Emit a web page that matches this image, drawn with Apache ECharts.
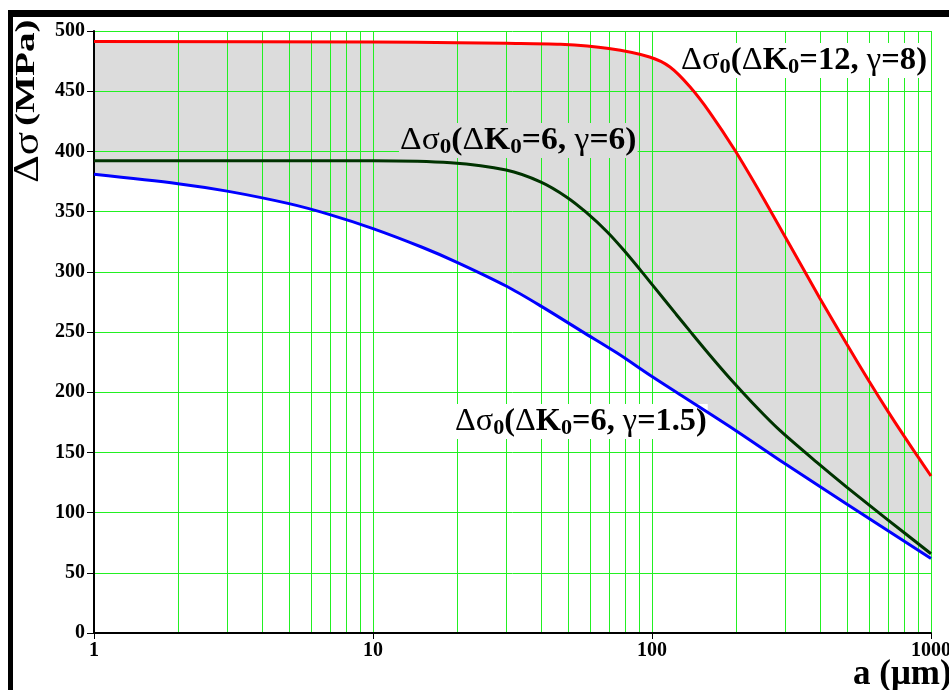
<!DOCTYPE html>
<html>
<head>
<meta charset="utf-8">
<script src="https://cdn.jsdelivr.net/npm/echarts@6/dist/echarts.min.js"></script>
<style>
html, body { margin: 0; padding: 0; background: #fff; }
#main { width: 949px; height: 690px; }
</style>
</head>
<body>
<div id="main"></div>
<script>
// curve data: a (um) and delta sigma (MPa)
var aRed = [1, 10, 20, 30, 47, 70, 98, 116, 137, 161, 198, 250, 300, 400, 500, 600, 700, 800, 900, 1000];
var sRed = [491.2, 490.8, 490.3, 489.8, 488.9, 485.4, 478.4, 470.1, 453.5, 432.5, 401.1, 361.6, 329.1, 277.9, 239.6, 209.1, 184.3, 163.7, 146, 130.4];
var aGreen = [1, 10, 19, 30, 40, 49.5, 58, 69, 79, 90.6, 101, 122, 137, 161, 190, 240, 288, 389, 500, 700, 1000];
var sGreen = [392.3, 392.2, 390.5, 384.5, 374.5, 362, 349.5, 333.3, 318.3, 301.8, 288.3, 264.8, 250.5, 230.9, 211.6, 186.2, 168, 141.9, 121, 94, 65.8];
var aBlue = [1, 2, 3, 5, 7, 10, 15, 20, 30, 40, 57, 75, 100, 130, 200, 300, 500, 1000];
var sBlue = [381, 373.2, 367, 356.6, 347.5, 335.9, 320.4, 307.9, 288.2, 271.5, 249.5, 232.5, 213, 196, 168, 140.5, 107, 61.8];
// minor vertical grid lines of the log axis
var minorA = [2, 3, 4, 5, 6, 7, 8, 9, 20, 30, 40, 50, 60, 70, 80, 90, 200, 300, 400, 500, 600, 700, 800, 900];
var yMin = 0, yMax = 500, yStep = 50;

function pairs(xs, ys) {
	var out = [];
	for (var i = 0; i < xs.length; i++) out.push([xs[i], ys[i]]);
	return out;
}
var red = pairs(aRed, sRed);
var green = pairs(aGreen, sGreen);
var blue = pairs(aBlue, sBlue);

var serif = "'Liberation Serif', 'DejaVu Serif', serif";
var gridGreen = '#22f022';

// rich styles for the curve labels
function labelRich() {
	return {
		g: { fontFamily: serif, fontSize: 32, fontWeight: 'normal', color: '#000', lineHeight: 35 },
		b: { fontFamily: serif, fontSize: 32, fontWeight: 'bold', color: '#000', lineHeight: 35 },
		r: { fontFamily: serif, fontSize: 22, fontWeight: 'bold', color: '#5a0a0a', lineHeight: 22, verticalAlign: 'bottom' },
		k: { fontFamily: serif, fontSize: 22, fontWeight: 'bold', color: '#000', lineHeight: 22, verticalAlign: 'bottom' }
	};
}

var myChart = echarts.init(document.getElementById('main'));

var option = {
	backgroundColor: '#fff',
	animation: false,
	grid: { left: 94, right: 18, top: 31, bottom: 57, outerBoundsMode: 'none' },
	xAxis: {
		type: 'log',
		logBase: 10,
		min: 1,
		max: 1000,
		z: 3,
		axisLine: { show: true, lineStyle: { color: '#000', width: 2 } },
		axisTick: { show: true, length: 6, lineStyle: { color: '#000', width: 1 } },
		axisLabel: {
			fontFamily: serif, fontWeight: 'bold', fontSize: 20, color: '#000', margin: 8,
			formatter: function (v) { return String(v); }
		},
		splitLine: { show: true, lineStyle: { color: gridGreen, width: 1 } },
		minorTick: { show: false },
		minorSplitLine: { show: false }
	},
	yAxis: {
		type: 'value',
		min: yMin,
		max: yMax,
		interval: yStep,
		z: 3,
		axisLine: { show: true, lineStyle: { color: '#000', width: 2 } },
		axisTick: { show: true, length: 7, lineStyle: { color: '#000', width: 1 } },
		axisLabel: { fontFamily: serif, fontWeight: 'bold', fontSize: 20, color: '#000', margin: 9 },
		splitLine: { show: true, lineStyle: { color: gridGreen, width: 1 } }
	},
	series: [
		{
			// grey band between the top and bottom curve
			type: 'custom',
			z: 1,
			silent: true,
			data: [[1, 0]],
			renderItem: function (params, api) {
				var pts = [];
				for (var i = 0; i < red.length; i++) pts.push(api.coord(red[i]));
				for (var j = blue.length - 1; j >= 0; j--) pts.push(api.coord(blue[j]));
				return { type: 'polygon', shape: { points: pts, smooth: 0 }, style: { fill: '#dcdcdc' } };
			}
		},
		{
			// minor grid lines (2..9, 20..90, 200..900)
			type: 'custom',
			z: 3,
			silent: true,
			data: minorA.map(function (v) { return [v, 0]; }),
			renderItem: function (params, api) {
				var v = api.value(0);
				var top = api.coord([v, yMax]);
				var bot = api.coord([v, yMin]);
				var x = Math.round(top[0]) + 0.5;
				return {
					type: 'line',
					shape: { x1: x, y1: top[1], x2: x, y2: bot[1] },
					style: { stroke: gridGreen, lineWidth: 1 }
				};
			}
		},
		{
			type: 'line', z: 5, data: red, smooth: 0.3, showSymbol: false,
			lineStyle: { color: '#ff0000', width: 3 }
		},
		{
			type: 'line', z: 5, data: green, smooth: 0.3, showSymbol: false,
			lineStyle: { color: '#003300', width: 3 }
		},
		{
			type: 'line', z: 5, data: blue, smooth: 0.3, showSymbol: false,
			lineStyle: { color: '#0000ff', width: 3 }
		}
	],
	graphic: [
		{ type: 'rect', z: 20, shape: { x: 8, y: 10, width: 941, height: 7 }, style: { fill: '#000' } },
		{ type: 'rect', z: 20, shape: { x: 8, y: 10, width: 5, height: 680 }, style: { fill: '#000' } },
		{
			type: 'text', z: 20, x: 11, y: 183, rotation: Math.PI / 2, scaleX: 1.2,
			style: { text: 'Δσ', fontFamily: serif, fontSize: 36, fill: '#000' }
		},
		{
			type: 'text', z: 20, x: 13, y: 126, rotation: Math.PI / 2, scaleX: 1.4,
			style: { text: '(MPa)', fontFamily: serif, fontSize: 28, fontWeight: 'bold', fill: '#000' }
		},
		{
			type: 'text', z: 20, x: 853, y: 657,
			style: {
				text: 'a (μm)',
				fontFamily: serif, fontSize: 35, fontWeight: 'bold', fill: '#000'
			}
		},
		{
			type: 'text', z: 4, x: 680, y: 43, scaleX: 1.02,
			style: {
				text: '{g|Δσ}{r|0}{b|(}{g|Δ}{b|K}{k|0}{b|=12, }{g|γ}{b|=8)}',
				rich: labelRich(), backgroundColor: '#fff', padding: [0, 1, 0, 1]
			}
		},
		{
			type: 'text', z: 4, x: 399, y: 123, scaleX: 1.05,
			style: {
				text: '{g|Δσ}{r|0}{b|(}{g|Δ}{b|K}{k|0}{b|=6, }{g|γ}{b|=6)}',
				rich: labelRich(), backgroundColor: '#dcdcdc', padding: [0, 1, 0, 1]
			}
		},
		{
			type: 'text', z: 4, x: 454, y: 404, scaleX: 1.01,
			style: {
				text: '{g|Δσ}{r|0}{b|(}{g|Δ}{b|K}{k|0}{b|=6, }{g|γ}{b|=1.5)}',
				rich: labelRich(), backgroundColor: '#fff', padding: [0, 1, 0, 1]
			}
		}
	]
};

myChart.setOption(option);
</script>
</body>
</html>
